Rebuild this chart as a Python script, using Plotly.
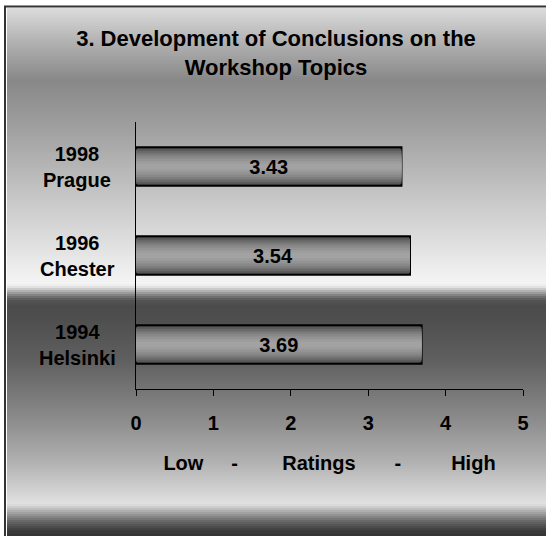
import plotly.graph_objects as go

# ---- data ----
categories = ["1994<br>Helsinki", "1996<br>Chester", "1998<br>Prague"]
ratings = [3.69, 3.54, 3.43]
value_labels = ["3.69", "3.54", "3.43"]
x_ticks = [0, 1, 2, 3, 4, 5]
title_text = "3. Development of Conclusions on the<br>Workshop Topics"
NB = "\u00a0"
x_title = "Low" + NB * 5 + "-" + NB * 8 + "Ratings" + NB * 7 + "-" + NB * 9 + "High"

W, H = 546, 536
ML, MR, MT, MB = 136, 23, 122, 147
PW, PH = W - ML - MR, H - MT - MB

FONT = "Liberation Sans, Arial, sans-serif"

fig = go.Figure()

# bar with shaded (cylindrical) look: layered overlay bars
layers = [
    (0.43, "#4d4d4d"), (0.39, "#5c5c5c"), (0.34, "#6c6c6c"), (0.29, "#7b7b7b"),
    (0.24, "#888888"), (0.18, "#939393"), (0.12, "#9c9c9c"), (0.06, "#a2a2a2"),
]
for i, (w, c) in enumerate(layers):
    fig.add_trace(go.Bar(
        y=categories, x=ratings, orientation="h", width=w,
        marker=dict(color=c, line=dict(color="#000000", width=2 if i == 0 else 0)),
        hoverinfo="skip", showlegend=False,
    ))
fig.add_trace(go.Bar(
    y=categories, x=ratings, orientation="h", width=0.001,
    marker=dict(color="rgba(0,0,0,0)", line=dict(width=0)),
    text=value_labels, textposition="inside", insidetextanchor="middle",
    constraintext="none", cliponaxis=False,
    textfont=dict(family=FONT, size=20, color="#000000", weight="bold"),
    hoverinfo="skip", showlegend=False,
))

# category labels (centered, two lines)
for cat in categories:
    fig.add_annotation(
        x=(77 - ML) / PW, xref="paper", y=cat, yref="y",
        text="<b>" + cat.replace("<br>", "</b><br><b>") + "</b>",
        showarrow=False, xanchor="center", yanchor="middle", align="center",
        font=dict(family=FONT, size=20, color="#000000"),
    )

# background gradient stripes (figure-level, in pixel -> paper coords)
keys = [(0, 255), (6, 255), (8, 220), (40, 180), (80, 136), (120, 155), (200, 200),
        (284, 245), (287, 225), (290, 190), (293, 155), (296, 120), (300, 85),
        (306, 75), (318, 78), (360, 95), (420, 140), (463, 178), (504, 225),
        (507, 205), (511, 175), (516, 140), (521, 105), (526, 80), (531, 58), (536, 52)]

def gray_at(py):
    for (y0, g0), (y1, g1) in zip(keys[:-1], keys[1:]):
        if y0 <= py <= y1:
            t = 0 if y1 == y0 else (py - y0) / (y1 - y0)
            return round(g0 + (g1 - g0) * t)
    return keys[-1][1]

def px2py(py):
    return (H - MB - py) / PH

def px2px(px):
    return (px - ML) / PW

shapes = []
step = 2
for py in range(8, H, step):
    g = gray_at(py + step / 2)
    shapes.append(dict(type="rect", xref="paper", yref="paper",
                       x0=px2px(7), x1=px2px(W + 2), y0=px2py(py + step), y1=px2py(py),
                       fillcolor=f"rgb({g},{g},{g})", line=dict(width=0), layer="below"))
# frame lines
shapes.append(dict(type="rect", xref="paper", yref="paper",
                   x0=px2px(5), x1=px2px(W + 5), y0=px2py(H + 5), y1=px2py(6.5),
                   fillcolor="rgba(0,0,0,0)", line=dict(color="#333333", width=2), layer="below"))
fig.update_layout(shapes=shapes)

fig.update_layout(
    width=W, height=H,
    margin=dict(l=ML, r=MR, t=MT, b=MB, pad=0),
    paper_bgcolor="#ffffff", plot_bgcolor="rgba(0,0,0,0)",
    barmode="overlay",
    title=dict(text="<b>" + title_text.replace("<br>", "</b><br><b>") + "</b>",
               x=276 / W, xref="container", xanchor="center",
               y=1 - 46 / H, yref="container", yanchor="middle",
               font=dict(family=FONT, size=22, color="#000000")),
    font=dict(family=FONT, color="#000000"),
    xaxis=dict(range=[0, 5], tickvals=x_ticks, ticktext=[f"<b>{v}</b>" for v in x_ticks],
               showgrid=False, zeroline=False, showline=True, linecolor="#000000", linewidth=1,
               ticks="outside", ticklen=6, tickcolor="#000000", tickwidth=1,
               ticklabelstandoff=10,
               tickfont=dict(family=FONT, size=20, color="#000000"),
               title=dict(text="<b>" + x_title + "</b>", standoff=22,
                          font=dict(family=FONT, size=20, color="#000000"))),
    yaxis=dict(showticklabels=False, showgrid=False, zeroline=False, showline=True,
               linecolor="#000000", linewidth=1, ticks=""),
)

fig.write_html("out.html", config={"displayModeBar": False},
               post_script="document.body.style.margin='0';document.body.style.overflow='hidden';")
